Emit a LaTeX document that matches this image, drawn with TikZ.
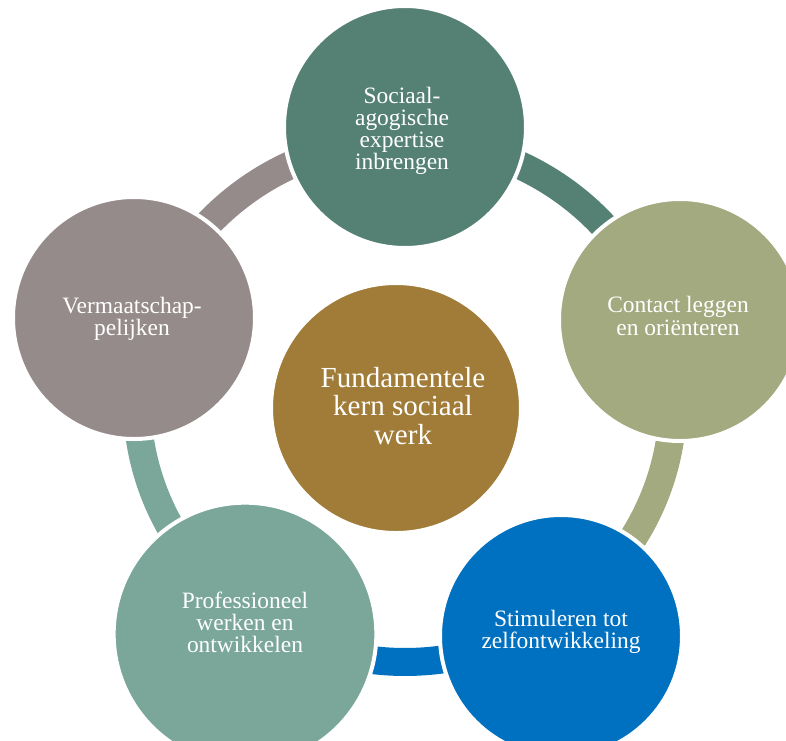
\documentclass[tikz,border=0pt]{standalone}
\usepackage{fontspec}
\setmainfont{Liberation Serif}
\definecolor{ctop}{RGB}{85,129,116}
\definecolor{cright}{RGB}{163,170,128}
\definecolor{cbr}{RGB}{0,112,192}
\definecolor{cbl}{RGB}{123,167,155}
\definecolor{cleft}{RGB}{150,139,139}
\definecolor{ccenter}{RGB}{160,124,56}
\begin{document}
\begin{tikzpicture}[x=0.75pt,y=-0.75pt,
  band/.style={line width=21pt},
  bubble/.style={circle,draw=white,line width=3pt,inner sep=0pt,outer sep=0pt},
  outertext/.style={text=white,align=center,inner sep=0pt,font=\fontsize{17.6}{16.6}\selectfont},
  centertext/.style={text=white,align=center,inner sep=0pt,font=\fontsize{21.8}{21.2}\selectfont}]
\useasboundingbox (0,0) rectangle (786,740);
\clip (0,0) rectangle (786,740);
\coordinate (ring) at (405,401);
% ring segments
\draw[band,ctop]   ([shift={({268*cos(-90)},{261*sin(-90)})}]ring) arc[start angle=-90,end angle=-16.4,x radius=268,y radius=261];
\draw[band,cright] ([shift={({268*cos(-16.4)},{261*sin(-16.4)})}]ring) arc[start angle=-16.4,end angle=56.4,x radius=268,y radius=261];
\draw[band,cbr]    ([shift={({268*cos(56.4)},{261*sin(56.4)})}]ring) arc[start angle=56.4,end angle=124.5,x radius=268,y radius=261];
\draw[band,cbl]    ([shift={({268*cos(124.5)},{261*sin(124.5)})}]ring) arc[start angle=124.5,end angle=197,x radius=268,y radius=261];
\draw[band,cleft]  ([shift={({268*cos(197)},{261*sin(197)})}]ring) arc[start angle=197,end angle=270,x radius=268,y radius=261];
% circles
\node[bubble,fill=ctop,minimum size=181.5pt]   (ntop)   at (405,127) {};
\node[bubble,fill=cright,minimum size=181.5pt] (nright) at (680,320) {};
\node[bubble,fill=cbr,minimum size=181.5pt]    (nbr)    at (561,636) {};
\node[bubble,fill=cbl,minimum size=197pt]      (nbl)    at (245,634) {};
\node[bubble,fill=cleft,minimum size=181.5pt]  (nleft)  at (134,318) {};
\node[bubble,fill=ccenter,minimum size=187.5pt] (ncenter) at (396,408) {};
% texts
\node[outertext] (ttop)   at (402,131) {Sociaal-\\agogische\\expertise\\inbrengen};
\node[outertext] (tright) at (678,316) {Contact leggen\\en oriënteren};
\node[outertext] (tbr)    at (561,632) {Stimuleren tot\\zelfontwikkeling};
\node[outertext] (tbl)    at (245,622.5) {Professioneel\\werken en\\ontwikkelen};
\node[outertext] (tleft)  at (132,318.5) {Vermaatschap-\\pelijken};
\node[centertext] (tcenter) at (403,406) {Fundamentele\\kern sociaal\\werk};
\end{tikzpicture}
\end{document}
